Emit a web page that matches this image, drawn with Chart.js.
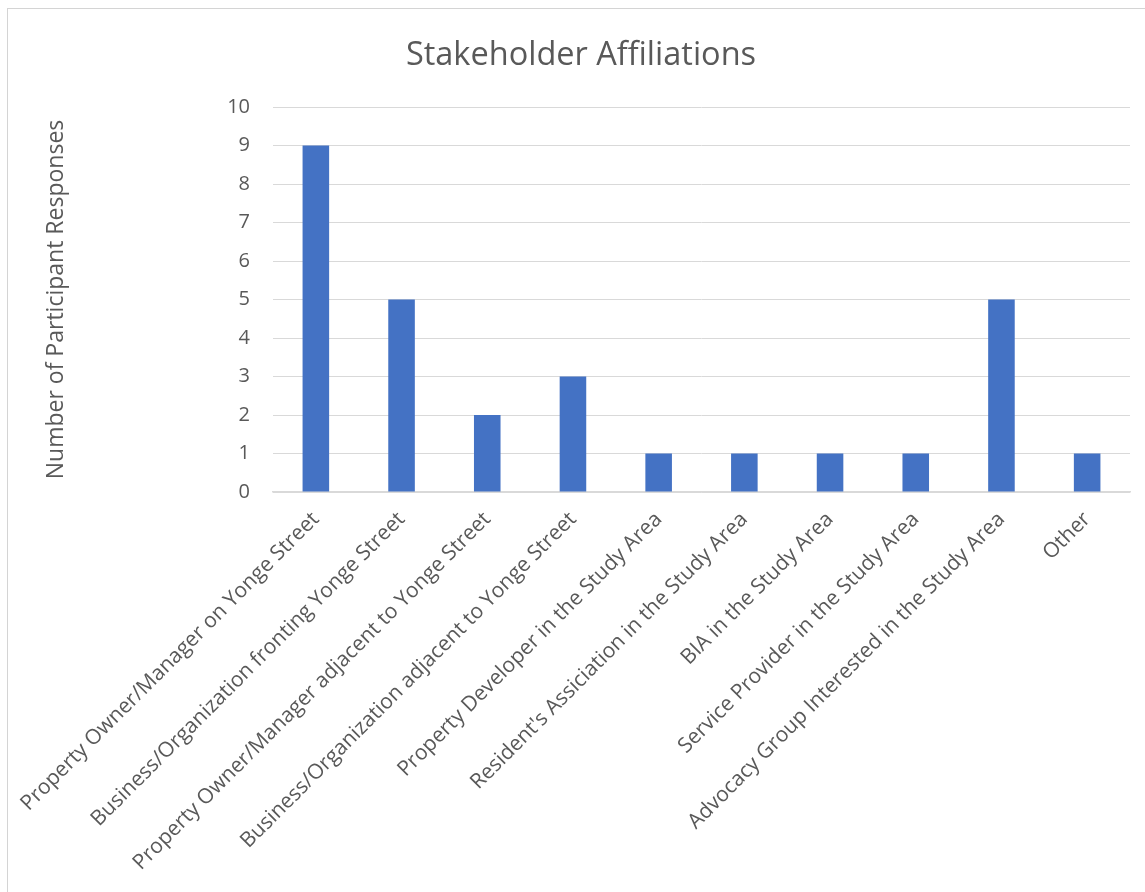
<!DOCTYPE html>
<html>
<head>
<meta charset="utf-8">
<script src="https://cdn.jsdelivr.net/npm/chart.js@4.4.1/dist/chart.umd.min.js"></script>
<style>
  html, body { margin: 0; padding: 0; background: #ffffff; }
  body { width: 1145px; height: 892px; position: relative; overflow: hidden; }
  #frame { position: absolute; left: 7px; top: 8px; width: 1200px; height: 1000px;
           border-left: 1px solid #d4d4d4; border-top: 1px solid #d4d4d4; box-sizing: border-box; }
  #c { position: absolute; left: 0; top: 0; }
  #title { position: absolute; left: 7px; width: 1148px; top: 33px; height: 40px; line-height: 40px;
           text-align: center; font-family: 'Open Sans', 'Noto Sans', sans-serif; font-size: 32.5px;
           color: #595959; white-space: nowrap; }
</style>
</head>
<body>
<div id="frame"></div>
<canvas id="c" width="1145" height="892"></canvas>
<div id="title"></div>
<script>
const categories = [
  "Property Owner/Manager on Yonge Street",
  "Business/Organization fronting Yonge Street",
  "Property Owner/Manager adjacent to Yonge Street",
  "Business/Organization adjacent to Yonge Street",
  "Property Developer in the Study Area",
  "Resident's Assiciation in the Study Area",
  "BIA in the Study Area",
  "Service Provider in the Study Area",
  "Advocacy Group Interested in the Study Area",
  "Other"
];
const responses = [9, 5, 2, 3, 1, 1, 1, 1, 5, 1];
const chartTitle = "Stakeholder Affiliations";
const yAxisTitle = "Number of Participant Responses";
const yTickMin = 0;
const yTickMax = 10;
const yTickStep = 1;

const FONT = "'Open Sans', 'Noto Sans', sans-serif";
const TEXT = "#595959";
const GRID = "#d9d9d9";

document.getElementById('title').textContent = chartTitle;

new Chart(document.getElementById('c'), {
  type: 'bar',
  data: {
    labels: categories,
    datasets: [{
      label: yAxisTitle,
      data: responses,
      backgroundColor: '#4472C4',
      borderWidth: 0,
      categoryPercentage: 1.0,
      barPercentage: 0.31
    }]
  },
  options: {
    responsive: false,
    animation: false,
    layout: { padding: { left: 0, right: 15, top: 107, bottom: 0 } },
    plugins: {
      legend: { display: false },
      tooltip: { enabled: false },
      title: { display: false }
    },
    scales: {
      x: {
        grid: { display: false, drawTicks: false, tickLength: 0 },
        border: { display: true, color: GRID, width: 1.5 },
        ticks: {
          color: TEXT,
          font: { family: FONT, size: 21 },
          minRotation: 45,
          maxRotation: 45,
          autoSkip: false,
          padding: 15
        },
        afterFit: (s) => { s.height = 400; s.paddingLeft = 0; s.paddingRight = 0; }
      },
      y: {
        min: yTickMin,
        max: yTickMax,
        grid: { color: GRID, lineWidth: 1, drawTicks: false, tickLength: 0 },
        border: { display: false },
        ticks: {
          stepSize: yTickStep,
          color: TEXT,
          font: { family: FONT, size: 20 },
          padding: 23
        },
        title: {
          display: true,
          text: yAxisTitle,
          color: TEXT,
          font: { family: FONT, size: 23, weight: 'normal' },
          padding: { top: 43, bottom: 0 }
        },
        afterFit: (s) => { s.width = 273; }
      }
    }
  }
});
</script>
</body>
</html>
